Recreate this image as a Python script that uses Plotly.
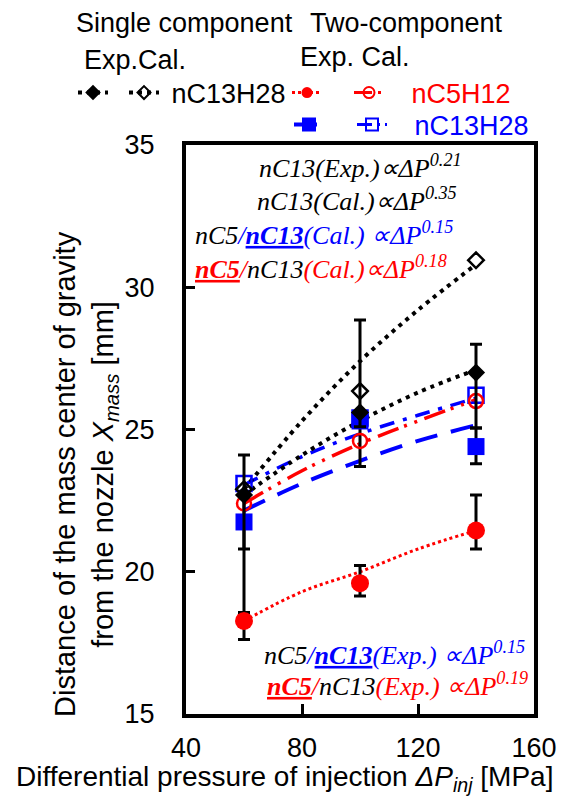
import plotly.graph_objects as go

# ---------------- data ----------------
x_pressure = [60, 100, 140]

single_exp = [22.7, 25.6, 27.0]
single_exp_err_plus = [1.4, 3.25, 1.0]
single_exp_err_minus = [4.15, 0.5, 1.95]
single_cal = [22.9, 26.35, 30.95]

nc5_exp = [18.27, 19.6, 21.45]
nc5_exp_err_plus = [0.3, 0.62, 1.25]
nc5_exp_err_minus = [0.65, 0.45, 0.65]
nc5_cal = [22.4, 24.6, 26.0]

nc13_exp = [21.75, 25.3, 24.4]
nc13_exp_err_plus = [0.95, 0.3, 0.65]
nc13_exp_err_minus = [0.95, 1.6, 0.6]
nc13_cal = [23.1, 25.4, 26.2]

# fitted trend curves
trend_x = [60, 80, 100, 120, 140]
single_exp_trend = [22.7, 24.1, 25.3, 26.3, 27.1]
single_cal_trend = [22.9, 25.3, 27.4, 29.2, 30.8]
nc5_cal_trend = [22.4, 23.55, 24.5, 25.3, 26.05]
nc13_cal_trend = [23.05, 24.05, 24.85, 25.5, 26.1]
nc13_exp_trend = [22.15, 23.1, 23.9, 24.6, 25.15]
nc5_exp_trend = [18.27, 19.3, 20.0, 20.8, 21.45]

x_ticks = [40, 80, 120, 160]
y_ticks = [15, 20, 25, 30, 35]

# ---------------- styles ----------------
# the page body keeps an 8px margin, so the figure is 8px smaller than the window
OFF = 8
W, H = 568 - OFF, 801 - OFF
BLACK, RED, BLUE = "#000000", "#FF0000", "#0000FF"
SANS = "Liberation Sans, Arial, sans-serif"
SERIF = "Liberation Serif, Times New Roman, serif"

dash_black = "4px,5px"
dash_red_exp = "3px,3px"
dash_red_cal = "22px,6px,3px,8px,3px,8px"
dash_blue_cal = "15px,9px,4px,9px"
dash_blue_exp = "23px,14px"

err_style = dict(type="data", symmetric=False, color=BLACK, thickness=3, width=6)

fig = go.Figure()

# trend curves
def trend(y, color, dash, width):
    fig.add_trace(go.Scatter(x=trend_x, y=y, mode="lines", line=dict(color=color, dash=dash, width=width, shape="spline"),
                             showlegend=False, hoverinfo="skip"))

trend(nc13_exp_trend, BLUE, dash_blue_exp, 4)
trend(nc13_cal_trend, BLUE, dash_blue_cal, 3.5)
trend(nc5_cal_trend, RED, dash_red_cal, 3.5)
trend(single_cal_trend, BLACK, dash_black, 4)
trend(single_exp_trend, BLACK, dash_black, 4)
trend(nc5_exp_trend, RED, dash_red_exp, 3)

# data markers
fig.add_trace(go.Scatter(x=x_pressure, y=nc13_exp, mode="markers", showlegend=False,
                         marker=dict(symbol="square", size=17, color=BLUE),
                         error_y=dict(err_style, array=nc13_exp_err_plus, arrayminus=nc13_exp_err_minus)))
fig.add_trace(go.Scatter(x=x_pressure, y=nc13_cal, mode="markers", showlegend=False,
                         marker=dict(symbol="square-open", size=15, color=BLUE, line=dict(width=2.5, color=BLUE))))
fig.add_trace(go.Scatter(x=x_pressure, y=nc5_cal, mode="markers", showlegend=False,
                         marker=dict(symbol="circle-open", size=14, color=RED, line=dict(width=2.5, color=RED))))
fig.add_trace(go.Scatter(x=x_pressure, y=single_cal, mode="markers", showlegend=False,
                         marker=dict(symbol="diamond-open", size=12, color=BLACK, line=dict(width=2.5, color=BLACK))))
fig.add_trace(go.Scatter(x=x_pressure, y=single_exp, mode="markers", showlegend=False,
                         marker=dict(symbol="diamond", size=14, color=BLACK),
                         error_y=dict(err_style, array=single_exp_err_plus, arrayminus=single_exp_err_minus)))
fig.add_trace(go.Scatter(x=x_pressure, y=nc5_exp, mode="markers", showlegend=False,
                         marker=dict(symbol="circle", size=18, color=RED),
                         error_y=dict(err_style, array=nc5_exp_err_plus, arrayminus=nc5_exp_err_minus)))

# legend-only entries
NB = "\u00a0"
def leg(name, legend, color, dash, width, symbol, size, lw, legwidth):
    fig.add_trace(go.Scatter(x=[None], y=[None], mode="lines+markers", name=name, legend=legend,
                             legendwidth=legwidth,
                             line=dict(color=color, dash=dash, width=width),
                             marker=dict(symbol=symbol, size=size, color=color, line=dict(width=lw, color=color))))

leg("", "legend", BLACK, dash_black, 4, "diamond", 12, 0, 6)
leg(NB + "nC13H28", "legend", BLACK, dash_black, 4, "diamond-open", 10, 2, None)
leg("", "legend2", RED, dash_red_exp, 3, "circle", 11, 0, 17)
leg(NB * 3 + "nC5H12", "legend2", RED, "18px,6px,3px,6px", 3, "circle-open", 11, 2, None)
leg("", "legend3", BLUE, dash_blue_exp, 4, "square", 14, 0, 18)
leg(NB * 3 + "nC13H28", "legend3", BLUE, "15px,5px,3px,5px", 3, "square-open", 12, 2, None)

# positions are given in window pixels and converted to paper fractions
def px_x(p):
    return (p - OFF) / W

def px_y(p):
    return 1 - (p - OFF) / H

legend_common = dict(orientation="h", xanchor="left", yanchor="middle", bgcolor="rgba(0,0,0,0)",
                     itemwidth=30, tracegroupgap=0, itemclick=False, itemdoubleclick=False)

axis_common = dict(showline=True, linewidth=4, linecolor=BLACK, mirror=True, showgrid=False, zeroline=False,
                   ticks="inside", tickcolor=BLACK, tickwidth=3, automargin=False,
                   tickfont=dict(family=SANS, size=27, color=BLACK))

fig.update_layout(
    template="none",
    width=W, height=H,
    margin=dict(l=0, r=0, t=0, b=0, autoexpand=False),
    paper_bgcolor="white", plot_bgcolor="white",
    xaxis=dict(axis_common, domain=[px_x(186), px_x(534)], range=[40, 160], tickvals=x_ticks, ticklen=10,
               ticklabelstandoff=7),
    yaxis=dict(axis_common, domain=[px_y(714), px_y(145)], range=[15, 35], tickvals=y_ticks, ticklen=9,
               ticklabelstandoff=22),
    legend=dict(legend_common, x=px_x(73), y=px_y(93), font=dict(family=SANS, size=27, color=BLACK)),
    legend2=dict(legend_common, x=px_x(287), y=px_y(93), font=dict(family=SANS, size=27, color=RED)),
    legend3=dict(legend_common, x=px_x(289), y=px_y(125), font=dict(family=SANS, size=27, color=BLUE)),
)

# headers of the legend
def paper_text(text, x, y, size=27, angle=0, color=BLACK, family=SANS):
    fig.add_annotation(text=text, xref="paper", yref="paper", x=px_x(x), y=px_y(y), showarrow=False,
                       textangle=angle, font=dict(family=family, size=size, color=color),
                       xanchor="center", yanchor="middle", align="center")

paper_text("Single component", 184, 23)
paper_text("Two-component", 406, 23)
paper_text("Exp.Cal.", 135, 60)
paper_text("Exp. Cal.", 355, 57)

# axis titles
paper_text("Distance of the mass center of gravity<br>from the nozzle <i>X<sub>mass</sub></i> [mm]", 86, 474,
           size=29, angle=-90)
paper_text("Differential pressure of injection <i>ΔP<sub>inj</sub></i> [MPa]", 284, 778, size=28)

# fitted-exponent notes inside the plot
def note(text, x, y, anchor):
    fig.add_annotation(text=text, xref="x", yref="y", x=x, y=y, showarrow=False, xanchor=anchor,
                       yanchor="middle", font=dict(family=SERIF, size=26, color=BLACK))

note("<i>nC13(Exp.)∝ΔP<sup>0.21</sup></i>", 100, 34.26, "center")
note("<i>nC13(Cal.)∝ΔP<sup>0.35</sup></i>", 99, 33.07, "center")
note("<i>nC5<span style='color:#0000FF'>/<b><u>nC13</u></b>(Cal.) ∝ΔP<sup>0.15</sup></span></i>", 42.4, 31.9, "left")
note("<i><span style='color:#FF0000'><b><u>nC5</u></b>/</span>nC13<span style='color:#FF0000'>(Cal.)∝ΔP<sup>0.18</sup></span></i>",
     42.4, 30.68, "left")
note("<i>nC5<span style='color:#0000FF'>/<b><u>nC13</u></b>(Exp.) ∝ΔP<sup>0.15</sup></span></i>", 157.6, 17.14, "right")
note("<i><span style='color:#FF0000'><b><u>nC5</u></b>/</span>nC13<span style='color:#FF0000'>(Exp.) ∝ΔP<sup>0.19</sup></span></i>",
     158.6, 16.02, "right")

fig.write_html("out.html")
